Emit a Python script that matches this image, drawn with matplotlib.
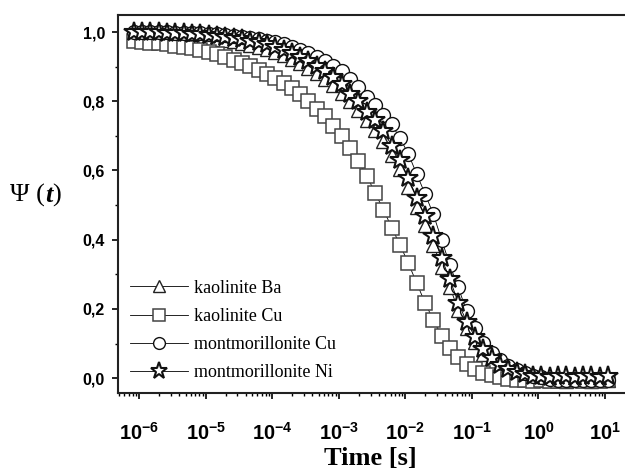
import math
import matplotlib
matplotlib.use('Agg')
import matplotlib.pyplot as plt
from matplotlib.ticker import FixedLocator, LogLocator, NullFormatter, FuncFormatter

# ---------------- data ----------------
# time grid, log10(t / s)
log_t = [-6.08, -5.955, -5.83, -5.705, -5.58, -5.455, -5.33, -5.205, -5.08, -4.955,
         -4.83, -4.705, -4.58, -4.455, -4.33, -4.205, -4.08, -3.955, -3.83, -3.705,
         -3.58, -3.455, -3.33, -3.205, -3.08, -2.955, -2.83, -2.705, -2.58, -2.455,
         -2.33, -2.205, -2.08, -1.955, -1.83, -1.705, -1.58, -1.455, -1.33, -1.205,
         -1.08, -0.955, -0.83, -0.705, -0.58, -0.455, -0.33, -0.205, -0.08, 0.045,
         0.17, 0.295, 0.42, 0.545, 0.67, 0.795, 0.92, 1.045]

kaolinite_ba = [0.998, 0.997, 0.996, 0.995, 0.994, 0.993, 0.991, 0.989, 0.987, 0.984,
                0.981, 0.977, 0.973, 0.968, 0.963, 0.957, 0.950, 0.942, 0.933, 0.922,
                0.910, 0.897, 0.882, 0.865, 0.846, 0.825, 0.800, 0.775, 0.746, 0.718,
                0.686, 0.646, 0.603, 0.552, 0.494, 0.441, 0.385, 0.322, 0.262, 0.198,
                0.146, 0.105, 0.071, 0.047, 0.030, 0.018, 0.009, 0.003, -0.001, -0.004,
                -0.006, -0.005, -0.007, -0.006, -0.005, -0.007, -0.006, -0.005]

kaolinite_cu = [0.973, 0.971, 0.969, 0.967, 0.964, 0.961, 0.957, 0.953, 0.949, 0.943,
                0.936, 0.929, 0.920, 0.911, 0.902, 0.891, 0.879, 0.866, 0.852, 0.837,
                0.821, 0.800, 0.779, 0.756, 0.729, 0.700, 0.664, 0.627, 0.585, 0.535,
                0.487, 0.435, 0.385, 0.332, 0.275, 0.218, 0.168, 0.122, 0.086, 0.061,
                0.040, 0.027, 0.016, 0.008, 0.002, -0.003, -0.005, -0.006, -0.007, -0.006,
                -0.007, -0.008, -0.007, -0.006, -0.007, -0.008, -0.007, -0.006]

montmorillonite_cu = [1.000, 1.000, 1.000, 0.999, 0.999, 0.998, 0.998, 0.997, 0.996, 0.995,
                      0.993, 0.991, 0.989, 0.986, 0.983, 0.979, 0.975, 0.970, 0.964, 0.957,
                      0.949, 0.940, 0.929, 0.917, 0.903, 0.886, 0.864, 0.840, 0.813, 0.788,
                      0.760, 0.733, 0.693, 0.648, 0.590, 0.533, 0.474, 0.400, 0.326, 0.262,
                      0.194, 0.145, 0.102, 0.073, 0.052, 0.035, 0.023, 0.014, 0.007, 0.002,
                      -0.002, -0.004, -0.005, -0.005, -0.006, -0.005, -0.006, -0.005]

montmorillonite_ni = [1.000, 1.000, 0.999, 0.999, 0.998, 0.997, 0.996, 0.995, 0.993, 0.991,
                      0.989, 0.986, 0.983, 0.979, 0.975, 0.970, 0.964, 0.957, 0.949, 0.940,
                      0.929, 0.917, 0.903, 0.887, 0.869, 0.849, 0.822, 0.800, 0.770, 0.745,
                      0.713, 0.672, 0.630, 0.578, 0.520, 0.468, 0.412, 0.346, 0.285, 0.218,
                      0.163, 0.120, 0.083, 0.058, 0.038, 0.026, 0.017, 0.011, 0.007, 0.005,
                      0.004, 0.006, 0.005, 0.004, 0.005, 0.006, 0.004, 0.005]

labels = ['kaolinite Ba', 'kaolinite Cu', 'montmorillonite Cu', 'montmorillonite Ni']
y_ticks = [0.0, 0.2, 0.4, 0.6, 0.8, 1.0]
x_decades = [-6, -5, -4, -3, -2, -1, 0, 1]

t = [10 ** v for v in log_t]

# ---------------- styling ----------------
plt.rcParams['font.family'] = ['Liberation Sans', 'DejaVu Sans']
plt.rcParams['mathtext.fontset'] = 'custom'
plt.rcParams['mathtext.rm'] = 'Liberation Sans:bold'
plt.rcParams['mathtext.it'] = 'Liberation Sans:bold'
plt.rcParams['mathtext.bf'] = 'Liberation Sans:bold'
plt.rcParams['mathtext.default'] = 'rm'

fig = plt.figure(figsize=(6.25, 4.71), dpi=100)
ax = fig.add_axes([0.189, 0.1656, 0.811, 0.8024])

line_kw = dict(color='black', lw=0.6, mfc='white')
ax.plot(t, kaolinite_ba, marker='^', ms=9.5, mec='#222222', mew=1.0, label=labels[0], **line_kw)
ax.plot(t, kaolinite_cu, marker='s', ms=9.4, mec='#444444', mew=1.1, label=labels[1], **line_kw)
ax.plot(t, montmorillonite_cu, marker='o', ms=10, mec='#111111', mew=1.0, label=labels[2], **line_kw)
ax.plot(t, montmorillonite_ni, marker='*', ms=14.5, mec='#111111', mew=1.5, label=labels[3], **line_kw)

ax.set_xscale('log')
ax.set_xlim(10 ** -6.315, 10 ** 1.30)
ax.set_ylim(-0.043, 1.049)

ax.xaxis.set_major_locator(FixedLocator([10 ** d for d in x_decades]))
ax.xaxis.set_major_formatter(FuncFormatter(lambda v, p: r'$10^{%d}$' % round(math.log10(v))))
ax.xaxis.set_minor_locator(LogLocator(base=10, subs=range(2, 10), numticks=50))
ax.xaxis.set_minor_formatter(NullFormatter())

ax.yaxis.set_major_locator(FixedLocator(y_ticks))
ax.yaxis.set_major_formatter(FuncFormatter(lambda v, p: ('%.1f' % v).replace('.', ',')))
ax.yaxis.set_minor_locator(FixedLocator([0.1, 0.3, 0.5, 0.7, 0.9]))

ax.tick_params(which='major', direction='out', length=4.5, width=1.2, labelsize=11.5, pad=5)
ax.tick_params(which='minor', direction='out', length=2.5, width=1.0)
ax.tick_params(axis='x', which='major', pad=16, labelsize=14.5)
for lab in ax.get_yticklabels():
    lab.set_fontweight('bold')

for side in ['left', 'bottom', 'top']:
    ax.spines[side].set_linewidth(1.5)
    ax.spines[side].set_color('#222222')
ax.spines['right'].set_visible(False)

leg = ax.legend(loc='lower left', frameon=False, handlelength=3.2, handletextpad=0.35,
                labelspacing=0.62, markerscale=0.85, borderaxespad=0.25,
                prop={'family': 'Liberation Serif', 'size': 13})

# axis labels
fig.text(0.592, 0.026, 'Time [s]', family='Liberation Serif', fontweight='bold',
         fontsize=19, ha='center', va='center')
ylab = fig.text(0.016, 0.585, '\u03a8 (', family='Liberation Serif', fontsize=19,
                ha='left', va='center')
tlab = ax.annotate('t', xy=(1, 0), xycoords=ylab, family='Liberation Serif',
                   fontweight='bold', style='italic', fontsize=19, ha='left', va='bottom')
ax.annotate(')', xy=(1, 0), xycoords=tlab, family='Liberation Serif', fontsize=19,
            ha='left', va='bottom')

fig.savefig('out.png', dpi=100)
